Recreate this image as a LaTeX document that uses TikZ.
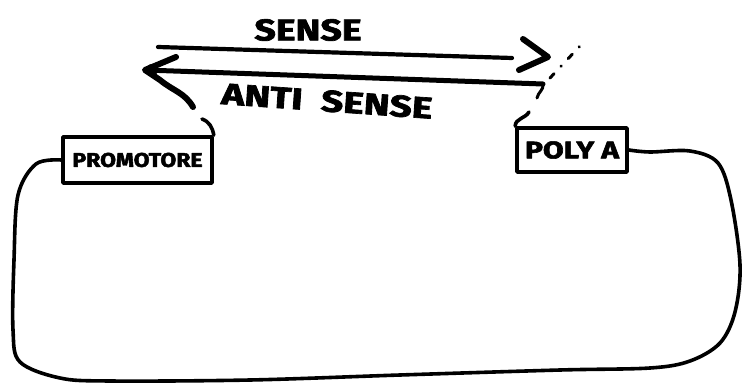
\documentclass[tikz,border=0pt]{standalone}
\usepackage{fontspec}
\usepackage{graphicx}
\setmainfont{Fira Sans}[BoldFeatures={FakeBold=2.2}]
\usetikzlibrary{calc}

\tikzset{
  ink/.style={line width=3.6pt, line cap=round, line join=round},
  tag/.style={draw, ink, rectangle, inner sep=0pt, font=\bfseries},
  hand/.style={font=\bfseries, inner sep=0pt},
  strand/.style={line width=4.2pt, line cap=round},
  barb/.style={line width=5pt, line cap=round, line join=round},
}

\begin{document}
\begin{tikzpicture}[x=1pt, y=-1pt]
  \useasboundingbox (0,0) rectangle (752,390);

  % plasmid elements
  \node[tag, minimum width=149pt, minimum height=46pt] (prom) at (137.5,160)
    {\fontsize{20}{20}\selectfont\scalebox{1.15}[1]{PROMOTORE}};
  \node[tag, minimum width=110pt, minimum height=44pt] (polya) at (572,150)
    {\fontsize{24}{24}\selectfont\scalebox{1.25}[1]{POLY A}};

  % strand labels
  \node[hand] (senselbl) at (308,30)
    {\fontsize{30}{30}\selectfont\scalebox{1.25}[1]{SENSE}};
  \node[hand, rotate=-4] (antilbl) at (327,101)
    {\fontsize{30}{30}\selectfont\scalebox{1.3}[1]{ANTI\ \ SENSE}};

  % sense strand, pointing right
  \coordinate (s0) at (158,47);
  \coordinate (s1) at (512,58);
  \coordinate (stip) at (548,57);
  \draw[strand] (s0) -- (s1);
  \draw[barb, line width=6pt] (523,39) -- (stip) -- (519,70);
  \coordinate (d0) at (550,78);
  \coordinate (d1) at (580,46);
  \draw[line width=3pt, line cap=round, dash pattern=on 6pt off 10pt on 0.5pt off 10pt] (d0) -- (d1);

  % antisense strand, pointing left
  \coordinate (a0) at (543,84);
  \coordinate (atip) at (145,70);
  \draw[strand, line width=5pt] (a0) -- (atip);
  \draw[barb, line width=6pt] (176,57) -- (atip) -- (160,80) to[out=-40,in=120] (193,107);
  \fill (152,70) circle (6pt);
  \draw[ink, line width=3pt] (a0) to[out=-80,in=80] (537,98);

  % curls into the boxes
  \draw[ink] (202,119) to[out=-20,in=100] (prom.north east);
  \draw[ink] (529,112) to[out=-120,in=90] (polya.north west);

  % the rest of the plasmid
  \draw[ink] plot[smooth, tension=0.55] coordinates {
    (prom.west) (36,164) (18,195) (14,260) (13,330) (20,362) (60,378) (110,381)
    (250,380) (400,375) (560,370) (650,368) (690,361) (720,343) (735,312)
    (740,265) (731,200) (718,163) (690,151) (650,152) (polya.east)};
\end{tikzpicture}
\end{document}
